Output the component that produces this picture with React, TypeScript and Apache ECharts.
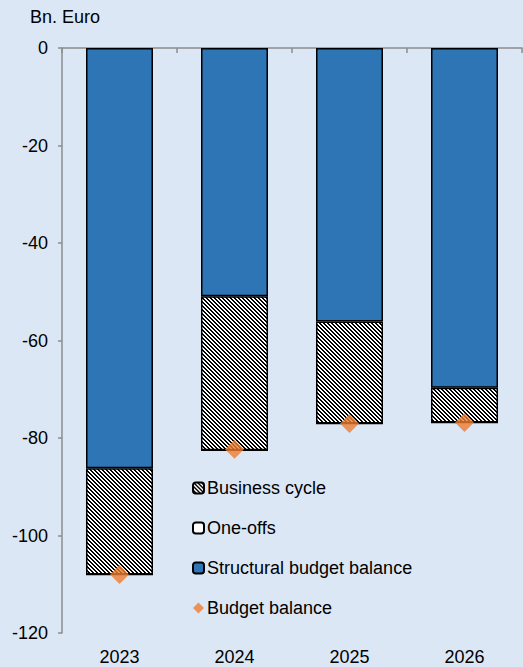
import React, { useEffect, useRef } from "react";
import * as echarts from "echarts";

const years = ["2023", "2024", "2025", "2026"];
const structuralBalance = [-86.2, -50.9, -56.1, -69.7];
const businessCycle = [-21.8, -31.6, -20.9, -7.1];
const oneOffs = [0, 0, 0, 0];
const budgetBalance = [-108, -82.3, -77, -76.8];
const yTicks = { min: -120, max: 0, interval: 20 };

function makeHatch() {
  const c = document.createElement("canvas");
  c.width = 4;
  c.height = 4;
  const ctx = c.getContext("2d")!;
  ctx.fillStyle = "#FFFFFF";
  ctx.fillRect(0, 0, 4, 4);
  ctx.fillStyle = "#000000";
  for (let y = 0; y < 4; y++) {
    for (let x = 0; x < 4; x++) {
      const d = (((x - y) % 4) + 4) % 4;
      if (d === 0 || d === 1) ctx.fillRect(x, y, 1, 1);
    }
  }
  return c;
}

export default function App() {
  const ref = useRef<HTMLDivElement>(null);
  useEffect(() => {
    const chart = echarts.init(ref.current!, null, { renderer: "svg" });
    const font = "Liberation Sans";
    const hatch = { image: makeHatch(), repeat: "repeat" };
    chart.setOption({
      animation: false,
      backgroundColor: "#DCE7F5",
      textStyle: { fontFamily: font },
      graphic: [
        {
          type: "text",
          left: 30,
          top: 8,
          style: { text: "Bn. Euro", fontSize: 18, fontFamily: font, fill: "#000" },
        },
      ],
      grid: { left: 62, right: 1, top: 48, bottom: 34, containLabel: false },
      legend: {
        orient: "vertical",
        left: 187,
        top: 474,
        itemGap: 22,
        itemWidth: 11,
        itemHeight: 11,
        textStyle: { fontSize: 18, color: "#000", fontFamily: font, padding: [0, 0, 0, -2] },
        data: [
          { name: "Business cycle" },
          { name: "One-offs" },
          { name: "Structural budget balance" },
          { name: "Budget balance", itemStyle: { borderWidth: 0 } },
        ],
      },
      xAxis: [
        {
          type: "category",
          data: years,
          position: "bottom",
          axisLine: { show: false },
          axisTick: { show: false },
          axisLabel: { fontSize: 18, color: "#000", margin: 15, fontFamily: font },
        },
        {
          type: "category",
          data: years,
          position: "top",
          axisLine: { show: true, lineStyle: { color: "#8C8C8C", width: 1.5 } },
          axisTick: { show: true, inside: true, length: 5, lineStyle: { color: "#8C8C8C", width: 1.5 } },
          axisLabel: { show: false },
        },
      ],
      yAxis: {
        type: "value",
        min: yTicks.min,
        max: yTicks.max,
        interval: yTicks.interval,
        axisLine: { show: true, lineStyle: { color: "#8C8C8C", width: 1.5 } },
        axisTick: { show: true, length: 4, lineStyle: { color: "#8C8C8C", width: 1.5 } },
        splitLine: { show: false },
        axisLabel: { fontSize: 18, color: "#000", margin: 14, fontFamily: font },
      },
      series: [
        {
          name: "Structural budget balance",
          type: "bar",
          stack: "total",
          barWidth: 67,
          data: structuralBalance,
          itemStyle: { color: "#2E75B6", borderColor: "#000", borderWidth: 1.5 },
        },
        {
          name: "Business cycle",
          type: "bar",
          stack: "total",
          barWidth: 67,
          data: businessCycle,
          itemStyle: {
            color: hatch,
            borderColor: "#000",
            borderWidth: 1.5,
          },
        },
        {
          name: "One-offs",
          type: "bar",
          stack: "total",
          barWidth: 67,
          data: oneOffs,
          itemStyle: { color: "#FFFFFF", borderColor: "#000", borderWidth: 1.5 },
        },
        {
          name: "Budget balance",
          type: "scatter",
          symbol: "diamond",
          symbolSize: 19,
          data: budgetBalance,
          itemStyle: { color: "#ED7D31" },
          z: 5,
        },
      ],
    });
    return () => chart.dispose();
  }, []);
  return (
    <div
      ref={ref}
      style={{ position: "fixed", left: 0, top: 0, width: 523, height: 667 }}
    />
  );
}
